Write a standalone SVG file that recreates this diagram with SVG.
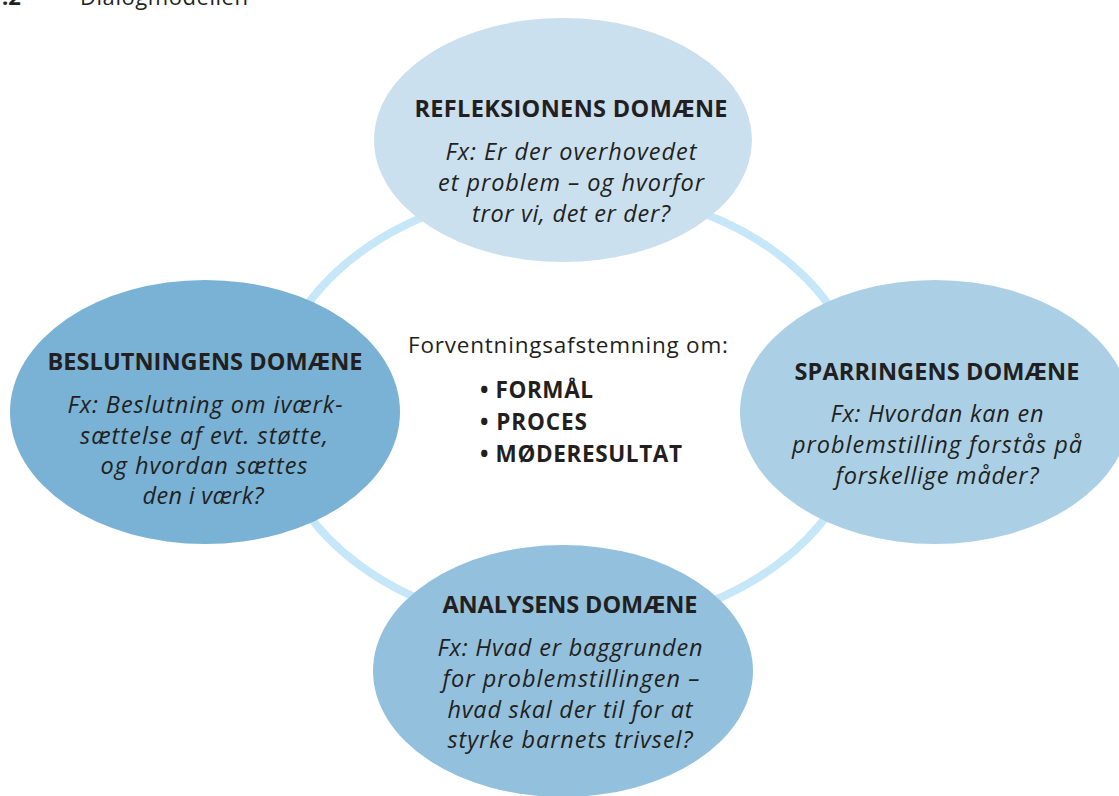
<svg xmlns="http://www.w3.org/2000/svg" width="1119" height="796" viewBox="0 0 1119 796">
<style>
text{font-family:"Open Sans","Noto Sans","Liberation Sans",sans-serif;fill:#231f20;text-anchor:middle}
.t{font-weight:700;font-size:23.5px}
.b{font-style:italic;font-size:23.5px}
.c{font-size:22.5px;text-anchor:start}
.l{font-weight:700;font-size:22.5px;text-anchor:start}
</style>
<rect width="1119" height="796" fill="#ffffff"/>
<text x="2" y="5" style="font-weight:700;font-size:22px;text-anchor:start">.2</text>
<text x="80" y="5" textLength="168" style="font-size:22px;text-anchor:start">Dialogmodellen</text>
<g id="connectors">
<ellipse cx="568" cy="409" rx="296" ry="220" fill="none" stroke="#c6e7f8" stroke-width="8"/>
</g>
<g id="refleksion">
<ellipse cx="563" cy="140" rx="189" ry="122" fill="#cbe0ef"/>
<text class="t" x="571" y="117" textLength="313">REFLEKSIONENS DOMÆNE</text>
<text class="b" x="571" y="160" textLength="251">Fx: Er der overhovedet</text>
<text class="b" x="571" y="191" textLength="266">et problem – og hvorfor</text>
<text class="b" x="571" y="222" textLength="198">tror vi, det er der?</text>
</g>
<g id="beslutning">
<ellipse cx="205" cy="412" rx="195" ry="132" fill="#79b2d4"/>
<text class="t" x="205" y="370" textLength="315">BESLUTNINGENS DOMÆNE</text>
<text class="b" x="205" y="413" textLength="275">Fx: Beslutning om iværk-</text>
<text class="b" x="204" y="444" textLength="248">sættelse af evt. støtte,</text>
<text class="b" x="204" y="474" textLength="207">og hvordan sættes</text>
<text class="b" x="203" y="504" textLength="121">den i værk?</text>
</g>
<g id="sparring">
<ellipse cx="935" cy="412" rx="195" ry="132" fill="#abd0e5"/>
<text class="t" x="937" y="380" textLength="285">SPARRINGENS DOMÆNE</text>
<text class="b" x="937" y="422" textLength="213">Fx: Hvordan kan en</text>
<text class="b" x="937" y="453" textLength="290">problemstilling forstås på</text>
<text class="b" x="937" y="484" textLength="203">forskellige måder?</text>
</g>
<g id="analyse">
<ellipse cx="563" cy="671" rx="190" ry="126" fill="#93c1dd"/>
<text class="t" x="570" y="613" textLength="255">ANALYSENS DOMÆNE</text>
<text class="b" x="570" y="656" textLength="265">Fx: Hvad er baggrunden</text>
<text class="b" x="571" y="687" textLength="257">for problemstillingen –</text>
<text class="b" x="570" y="718" textLength="245">hvad skal der til for at</text>
<text class="b" x="570" y="748" textLength="245">styrke barnets trivsel?</text>
</g>
<g id="center">
<text class="c" x="408" y="353" textLength="320">Forventningsafstemning om:</text>
<text class="l" x="480" y="398" textLength="113">• FORMÅL</text>
<text class="l" x="480" y="430" textLength="107">• PROCES</text>
<text class="l" x="480" y="462" textLength="202">• MØDERESULTAT</text>
</g>
</svg>
